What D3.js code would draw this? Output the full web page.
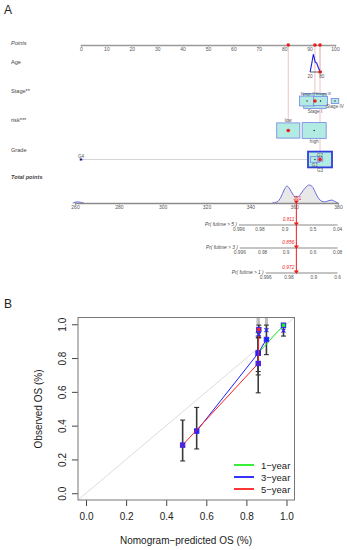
<!DOCTYPE html>
<html>
<head>
<meta charset="utf-8">
<script src="https://cdn.jsdelivr.net/npm/d3@7"></script>
<style>
  body { margin: 0; background: #fff; }
  svg { display: block; }
</style>
</head>
<body>
<svg id="fig" width="347" height="550"></svg>
<script>
// ---------- data: nomogram (A) ----------
const pointTicks = d3.range(0, 101, 10);

const ageTicks = [20, 80];
const ageTickPts = [90.2, 94.8];
const ageDensity = [[20, 0], [28, 0.45], [37, 1], [46, 0.55], [54, 0.5], [62, 0.25], [71, 0.03], [80, 0]];

const stageNames = ["Stage I", "Stage II", "Stage III", "Stage IV"];
const stagePts = [92.1, 89.0, 94.3, 100];
const stageFreq = [180, 80, 70, 20];
const stageLabelSide = ["below", "above", "above", "below"];

const riskNames = ["low", "high"];
const riskPts = [81.6, 91.8];
const riskFreq = [190, 205];
const riskLabelSide = ["above", "below"];

const gradeNames = ["G3", "G1", "G2", "G4"];
const gradePts = [94.1, 92.1, 94.1, 0];
const gradeFreq = [205, 27, 10, 1];
const gradeLabelSide = ["below", "below", "above", "above"];

const patientAge = 71;
const patientStage = "Stage I";
const patientRisk = "low";
const patientGrade = "G3";
const patientTotal = 361;

const totalTicks = d3.range(260, 381, 20);
// density of total points: small tail (G4 case) and main body
const totalDensityTail = [[259, 0], [261, 0.06], [264, 0]];
const totalDensityMain = [[350, 0], [352.2, 0.06], [354, 0.33], [355.4, 0.72],
  [356.7, 0.94], [358, 0.78], [359.3, 0.5], [360.5, 0.36], [361.6, 0.36], [362.7, 0.45], [364, 0.68],
  [365.5, 0.9], [366.8, 1.0], [368.2, 0.92], [369.6, 0.6], [371, 0.28], [372.6, 0.1], [374, 0.06],
  [375.5, 0.12], [377.3, 0.16], [378.6, 0.08], [380, 0]];

const prLabels = ["Pr( futime > 5 )", "Pr( futime > 3 )", "Pr( futime > 1 )"];
const prTickLabels = [["0.996", "0.98", "0.9", "0.5", "0.04"], ["0.996", "0.98", "0.9", "0.6", "0.08"], ["0.996", "0.98", "0.9", "0.6"]];
const prTickPts = [[334.8, 344.4, 355.8, 368.6, 379.8], [335.2, 345.6, 356.3, 368.6, 379.8], [347, 357.6, 369, 379.8]];
const prPred = ["0.811", "0.856", "0.972"];

// ---------- data: calibration (B) ----------
const calYears = ["1-year", "3-year", "5-year"];
const calColors = ["#22ee22", "#1f1fff", "#ff2020"];
const calPred = [[0.859, 0.985], [0.552, 0.859, 0.90], [0.482, 0.859, 0.862]];
const calObs = [[0.829, 0.994], [0.368, 0.829, 0.91], [0.285, 0.768, 0.969]];
const calLo = [[0.72, 0.93], [0.262, 0.70, 0.82], [0.191, 0.594, 0.92]];
const calHi = [[0.93, 1.005], [0.508, 0.95, 0.995], [0.433, 0.92, 0.995]];
const calCorr = [[0.83, 0.962], [0.368, 0.83, 0.965], [0.285, 0.768, 0.94]];
const rugPred = [0.853, 0.857, 0.861, 0.865, 0.895, 0.90, 0.905];
const calTicks = [0, 0.2, 0.4, 0.6, 0.8, 1.0];

// ---------- drawing ----------
const FONT = "'Liberation Sans', Arial, sans-serif";
const svg = d3.select("#fig");
const BOX_FILL = "#b2ebe2", BOX_STROKE = "#7d8ee6", PINK = "#ecbcbc", RED = "#ee1c1c";

const xPts = d3.scaleLinear().domain([0, 100]).range([81, 335]);
const xTot = d3.scaleLinear().domain([260, 380]).range([75, 338]);

const A = svg.append("g").attr("font-family", FONT);
A.append("text").attr("x", 4).attr("y", 14).attr("font-size", 12).attr("fill", "#222").text("A");

const rows = [
  {name: "Points", y: 45, ty: 45, style: "italic"},
  {name: "Age", y: 72, ty: 64},
  {name: "Stage**", y: 101, ty: 93},
  {name: "risk***", y: 130.5, ty: 122},
  {name: "Grade", y: 159.5, ty: 152},
  {name: "Total points", y: 203, ty: 179, style: "italic", weight: "bold"}
];
A.selectAll("text.rowlab").data(rows).join("text")
  .attr("class", "rowlab")
  .attr("x", 11).attr("y", d => d.ty)
  .attr("font-size", 5.6).attr("fill", "#444")
  .attr("font-style", d => d.style || "normal")
  .attr("font-weight", d => d.weight || "normal")
  .text(d => d.name);

const ageToPts = d3.scaleLinear().domain(ageTicks).range(ageTickPts);
const riskPatientPts = riskPts[riskNames.indexOf(patientRisk)];
const stagePatientPts = stagePts[stageNames.indexOf(patientStage)];
const gradePatientPts = gradePts[gradeNames.indexOf(patientGrade)];
const agePatientPts = ageToPts(patientAge);

// pink guide lines from the points axis
const guides = [[riskPatientPts, rows[3].y], [stagePatientPts, rows[2].y], [gradePatientPts, rows[4].y], [agePatientPts, rows[1].y]];
A.selectAll("line.guide").data(guides).join("line")
  .attr("x1", d => xPts(d[0])).attr("x2", d => xPts(d[0]))
  .attr("y1", 45).attr("y2", d => d[1])
  .attr("stroke", PINK).attr("stroke-width", 0.9);

// points axis
const gPts = A.append("g").attr("transform", "translate(0,45)")
  .call(d3.axisBottom(xPts).tickValues(pointTicks).tickSize(1.5).tickPadding(1).tickFormat(d3.format("d")));
gPts.select(".domain").attr("stroke", "#9a9a9a").attr("stroke-width", 1.4);
gPts.selectAll(".tick line").attr("stroke", "#9a9a9a");
gPts.selectAll(".tick text").attr("font-size", 5).attr("fill", "#555").attr("font-family", FONT);

// age row
const ageY = d3.scaleLinear().domain([0, 1]).range([rows[1].y, 54]);
A.append("line")
  .attr("x1", xPts(ageTickPts[0])).attr("x2", xPts(ageTickPts[1]))
  .attr("y1", rows[1].y).attr("y2", rows[1].y).attr("stroke", "#333").attr("stroke-width", 0.8);
A.append("path").datum(ageDensity)
  .attr("d", d3.line().x(d => xPts(ageToPts(d[0]))).y(d => ageY(d[1])))
  .attr("fill", "none").attr("stroke", "#1a1ae0").attr("stroke-width", 1.1);
A.selectAll("text.agetick").data(ageTicks).join("text")
  .attr("class", "agetick")
  .attr("x", d => xPts(ageToPts(d))).attr("y", 77.5)
  .attr("text-anchor", "middle").attr("font-size", 4.6).attr("fill", "#555").text(d => d);

// categorical rows drawn as boxes sized by frequency
const boxH = d3.scaleSqrt().domain([0, 200]).range([0, 15.6]);
function catRow(names, pts, freq, sides, y) {
  const items = names.map((n, i) => ({n, p: pts[i], f: freq[i], side: sides[i], h: boxH(freq[i])}));
  const g = A.append("g");
  g.selectAll("rect").data(items).join("rect")
    .attr("x", d => xPts(d.p) - d.h * 0.76).attr("y", d => y - d.h / 2)
    .attr("width", d => d.h * 1.52).attr("height", d => d.h)
    .attr("fill", BOX_FILL).attr("stroke", BOX_STROKE).attr("stroke-width", 0.9);
  g.selectAll("circle").data(items).join("circle")
    .attr("cx", d => xPts(d.p)).attr("cy", y).attr("r", 0.7).attr("fill", "#222");
  g.selectAll("text").data(items).join("text")
    .attr("x", d => xPts(d.p))
    .attr("y", d => d.side === "above" ? y - d.h / 2 - 1.2 : y + d.h / 2 + 4.6)
    .attr("text-anchor", "middle").attr("font-size", 4.6).attr("fill", "#555")
    .text(d => d.n);
  return g;
}
const gStage = catRow(stageNames, stagePts, stageFreq, stageLabelSide, rows[2].y);
// the two upper stage labels sit side by side
gStage.selectAll("text").filter(d => d.n === "Stage II")
  .attr("x", xPts(stagePts[0])).attr("text-anchor", "end").attr("font-size", 4.2);
gStage.selectAll("text").filter(d => d.n === "Stage III")
  .attr("x", xPts(stagePts[0]) + 0.5).attr("text-anchor", "start").attr("font-size", 4.2);
catRow(riskNames, riskPts, riskFreq, riskLabelSide, rows[3].y);

// grade: line to the rare G4 level, G3 box emphasised
A.append("line")
  .attr("x1", xPts(d3.min(gradePts))).attr("x2", xPts(d3.max(gradePts)) - 12)
  .attr("y1", rows[4].y).attr("y2", rows[4].y).attr("stroke", "#cfcfcf").attr("stroke-width", 0.9);
const gGrade = catRow(gradeNames, gradePts, gradeFreq, gradeLabelSide, rows[4].y);
gGrade.select("rect").attr("stroke", "#2f3fd8").attr("stroke-width", 1.8);
gGrade.selectAll("rect").filter(d => d.n === "G4").attr("fill", "#2020c0").attr("stroke", "#2020c0");

// patient red dots
const patientDots = [[riskPatientPts, rows[3].y], [stagePatientPts, rows[2].y], [gradePatientPts, rows[4].y],
  [agePatientPts, rows[1].y], [riskPatientPts, 45], [stagePatientPts, 45], [agePatientPts, 45]];
A.selectAll("circle.pat").data(patientDots).join("circle")
  .attr("class", "pat").attr("cx", d => xPts(d[0])).attr("cy", d => d[1]).attr("r", 1.8).attr("fill", RED);

// total points row
const totY = d3.scaleLinear().domain([0, 1]).range([203, 185]);
const densArea = d3.area().x(d => xTot(d[0])).y0(203).y1(d => totY(d[1])).curve(d3.curveMonotoneX);
const densLine = d3.line().x(d => xTot(d[0])).y(d => totY(d[1])).curve(d3.curveMonotoneX);
[totalDensityTail, totalDensityMain].forEach(dens => {
  A.append("path").datum(dens).attr("d", densArea).attr("fill", "#e8e8e8");
  A.append("path").datum(dens).attr("d", densLine)
    .attr("fill", "none").attr("stroke", "#6b6be0").attr("stroke-width", 1);
});
const gTot = A.append("g").attr("transform", "translate(0,203)")
  .call(d3.axisBottom(xTot).tickValues(totalTicks).tickSize(1.5).tickPadding(1).tickFormat(d3.format("d")));
gTot.select(".domain").attr("stroke", "#8a8a8a").attr("stroke-width", 1.3);
gTot.selectAll(".tick line").attr("stroke", "#8a8a8a");
gTot.selectAll(".tick text").attr("font-size", 5).attr("fill", "#555").attr("font-family", FONT);

// probability rows
const prY = [225, 248, 273];
const xPat = xTot(patientTotal);
A.append("line").attr("x1", xPat).attr("x2", xPat).attr("y1", 203).attr("y2", 273)
  .attr("stroke", RED).attr("stroke-width", 1);
prLabels.forEach((lab, i) => {
  const y = prY[i], ticks = prTickPts[i];
  const g = A.append("g");
  g.append("line").attr("x1", xTot(ticks[0])).attr("x2", xTot(ticks[ticks.length - 1]))
    .attr("y1", y).attr("y2", y).attr("stroke", "#8a8a8a").attr("stroke-width", 1.2);
  g.append("text").attr("x", xTot(ticks[0]) - 2).attr("y", y + 1).attr("text-anchor", "end")
    .attr("font-size", 4.8).attr("font-style", "italic").attr("fill", "#444").text(lab);
  g.selectAll("text.pt").data(ticks).join("text").attr("class", "pt")
    .attr("x", d => xTot(d)).attr("y", y + 5.5).attr("text-anchor", "middle")
    .attr("font-size", 4.8).attr("fill", "#555").text((d, j) => prTickLabels[i][j]);
  g.append("path").attr("d", `M${xPat - 2.6},${y - 2.6}L${xPat + 2.6},${y - 2.6}L${xPat},${y + 1}Z`).attr("fill", RED);
  g.append("text").attr("x", xPat - 2).attr("y", y - 4).attr("text-anchor", "end")
    .attr("font-size", 4.8).attr("font-style", "italic").attr("fill", RED).text(prPred[i]);
});
A.append("path").attr("d", `M${xPat - 2.6},${203 - 2.6}L${xPat + 2.6},${203 - 2.6}L${xPat},${203 + 1}Z`).attr("fill", RED);
A.append("text").attr("x", xPat + 1).attr("y", 199.5).attr("text-anchor", "middle")
  .attr("font-size", 4.6).attr("fill", RED).text(patientTotal);

// ---------- panel B: calibration ----------
const B = svg.append("g").attr("font-family", FONT);
B.append("text").attr("x", 4).attr("y", 308).attr("font-size", 12).attr("fill", "#222").text("B");

const x = d3.scaleLinear().domain([-0.04, 1.04]).range([78, 294.5]);
const y = d3.scaleLinear().domain([-0.04, 1.04]).range([500, 317.5]);

B.append("line").attr("x1", x(-0.04)).attr("y1", y(-0.04)).attr("x2", x(1.04)).attr("y2", y(1.04))
  .attr("stroke", "#dcdcdc").attr("stroke-width", 1);

B.selectAll("line.rug").data(rugPred).join("line").attr("class", "rug")
  .attr("x1", d => x(d)).attr("x2", d => x(d)).attr("y1", 318).attr("y2", 325)
  .attr("stroke", "#aaa").attr("stroke-width", 0.8);

const gx = B.append("g").attr("transform", "translate(0,500)")
  .call(d3.axisBottom(x).tickValues(calTicks).tickSize(6).tickPadding(7).tickFormat(d3.format(".1f")));
gx.select(".domain").remove();
gx.selectAll(".tick line").attr("stroke", "#444");
gx.selectAll(".tick text").attr("font-size", 10).attr("fill", "#222").attr("font-family", FONT);

const gy = B.append("g").attr("transform", "translate(78,0)")
  .call(d3.axisLeft(y).tickValues(calTicks).tickSize(6).tickFormat(d3.format(".1f")));
gy.select(".domain").remove();
gy.selectAll(".tick line").attr("stroke", "#444");
gy.selectAll(".tick text").attr("font-size", 10).attr("fill", "#222").attr("font-family", FONT)
  .attr("text-anchor", "middle").attr("transform", "translate(-16,0) rotate(-90)")
  .attr("x", 0).attr("y", 0).attr("dy", "0.35em");

B.append("rect").attr("x", 78).attr("y", 317.5).attr("width", 294.5 - 78).attr("height", 500 - 317.5)
  .attr("fill", "none").attr("stroke", "#777").attr("stroke-width", 1);

B.append("text").attr("x", 186).attr("y", 544).attr("text-anchor", "middle")
  .attr("font-size", 10).attr("fill", "#222").text("Nomogram\u2212predicted OS (%)");
B.append("text").attr("transform", "translate(42,409) rotate(-90)").attr("text-anchor", "middle")
  .attr("font-size", 10).attr("fill", "#222").text("Observed OS (%)");

// series: error bars, lines, markers
calYears.forEach((yr, s) => {
  const pts = calPred[s].map((p, i) => ({p, lo: calLo[s][i], hi: calHi[s][i]}));
  const g = B.append("g");
  g.selectAll("line.eb").data(pts).join("line").attr("class", "eb")
    .attr("x1", d => x(d.p)).attr("x2", d => x(d.p)).attr("y1", d => y(d.lo)).attr("y2", d => y(d.hi))
    .attr("stroke", "#3a3a3a").attr("stroke-width", 1.6);
  ["lo", "hi"].forEach(k => {
    g.selectAll("line.cap" + k).data(pts).join("line").attr("class", "cap" + k)
      .attr("x1", d => x(d.p) - 2.5).attr("x2", d => x(d.p) + 2.5)
      .attr("y1", d => y(d[k])).attr("y2", d => y(d[k]))
      .attr("stroke", "#222").attr("stroke-width", 1);
  });
});
calYears.forEach((yr, s) => {
  const pts = calPred[s].map((p, i) => ({p, o: calObs[s][i], c: calCorr[s][i]}));
  const g = B.append("g");
  g.append("path").datum(pts)
    .attr("d", d3.line().x(d => x(d.p)).y(d => y(d.o)))
    .attr("fill", "none").attr("stroke", calColors[s]).attr("stroke-width", 1);
  g.selectAll("rect").data(pts).join("rect")
    .attr("x", d => x(d.p) - 2.2).attr("y", d => y(d.o) - 2.2).attr("width", 4.4).attr("height", 4.4)
    .attr("fill", calColors[s]).attr("stroke", "#2a2aff").attr("stroke-width", 1);
  g.selectAll("path.x").data(pts).join("path").attr("class", "x")
    .attr("d", d => { const cx = x(d.p), cy = y(d.c); return `M${cx - 2},${cy - 2}L${cx + 2},${cy + 2}M${cx - 2},${cy + 2}L${cx + 2},${cy - 2}`; })
    .attr("stroke", "#2222ff").attr("stroke-width", 1.1);
});

// legend
const leg = B.append("g").attr("transform", "translate(234,465)");
calYears.forEach((yr, i) => {
  leg.append("line").attr("x1", 0).attr("x2", 20).attr("y1", i * 12).attr("y2", i * 12)
    .attr("stroke", calColors[i]).attr("stroke-width", 1.8);
  leg.append("text").attr("x", 27).attr("y", i * 12 + 3.5).attr("font-size", 9.5).attr("fill", "#222")
    .text(yr.replace("-", "\u2212"));
});
</script>
</body>
</html>
